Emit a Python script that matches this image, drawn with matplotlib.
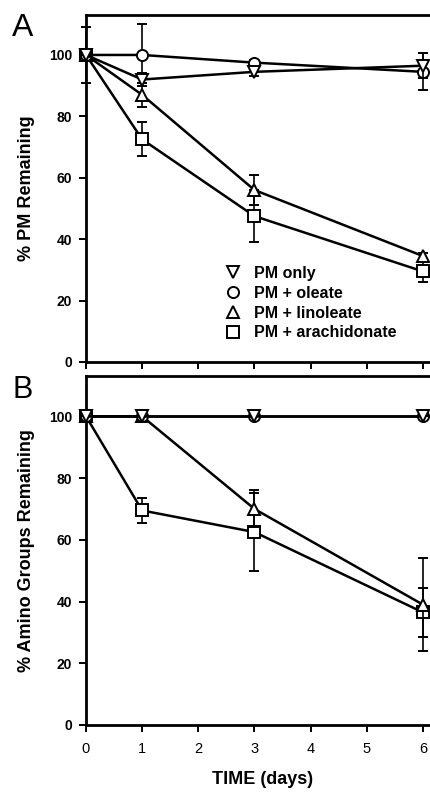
import matplotlib.pyplot as plt
from matplotlib.lines import Line2D

plt.rcParams['font.family'] = ['Liberation Sans', 'DejaVu Sans']

days = [0, 1, 3, 6]
labels = ["PM only", "PM + oleate", "PM + linoleate", "PM + arachidonate"]
markers = ["v", "o", "^", "s"]

# panel A : % PM remaining
pm_only_A = [100, 92, 94.5, 96.5]
pm_only_A_err = [0, 2, 1.5, 4]
oleate_A = [100, 100, 97.5, 94.5]
oleate_A_err = [9, 10, 1, 6]
linoleate_A = [100, 87, 56, 34.5]
linoleate_A_err = [0, 4, 5, 1]
arach_A = [100, 72.5, 47.5, 29.5]
arach_A_err = [0, 5.5, 8.5, 3.5]

# panel B : % amino groups remaining
pm_only_B = [100, 100, 100, 100]
pm_only_B_err = [0, 0, 0, 0]
oleate_B = [100, 100, 100, 100]
oleate_B_err = [0, 0, 0, 0]
linoleate_B = [100, 100, 70, 39]
linoleate_B_err = [0, 0, 6, 15]
arach_B = [100, 69.5, 62.5, 36.5]
arach_B_err = [0, 4.2, 12.5, 8]

fig = plt.figure(figsize=(4.3, 7.92), dpi=100)
axA = fig.add_axes([0.2, 0.543, 0.82, 0.438])
axB = fig.add_axes([0.2, 0.0846, 0.82, 0.4404])

def draw(ax, series):
    for i, ((y, e), m) in enumerate(zip(series, markers)):
        ax.errorbar(days, y, yerr=e, color="black", lw=1.8, marker=m,
                    markersize=8, markerfacecolor="white", markeredgecolor="black",
                    markeredgewidth=1.4, capsize=3.5, elinewidth=1.2, capthick=1.2,
                    clip_on=False, zorder=10 - i)
    ax.set_xlim(0, 6.28)
    ax.set_ylim(0, 113)
    ax.set_yticks([0, 20, 40, 60, 80, 100])
    ax.set_xticks(range(7))
    ax.spines["right"].set_visible(False)
    for s in ["left", "bottom", "top"]:
        ax.spines[s].set_linewidth(2)
    ax.tick_params(direction="out", length=5, width=1.4, labelsize=10)
    ax.tick_params(axis="y", pad=5)
    ax.tick_params(axis="x", pad=7, labelsize=10.5)
    for t in ax.get_yticklabels():
        t.set_fontweight("bold")

draw(axA, [(pm_only_A, pm_only_A_err), (oleate_A, oleate_A_err),
           (linoleate_A, linoleate_A_err), (arach_A, arach_A_err)])
draw(axB, [(pm_only_B, pm_only_B_err), (oleate_B, oleate_B_err),
           (linoleate_B, linoleate_B_err), (arach_B, arach_B_err)])

axA.set_xticklabels([])
axA.set_ylabel("% PM Remaining", fontsize=13, fontweight="bold", labelpad=10)
axB.set_ylabel("% Amino Groups Remaining", fontsize=13, fontweight="bold", labelpad=10)
axB.set_xlabel("TIME (days)", fontsize=13, fontweight="bold", labelpad=11)

handles = [Line2D([], [], linestyle="none", marker=m, markersize=8,
                  markerfacecolor="white", markeredgecolor="black", markeredgewidth=1.4)
           for m in markers]
leg = axA.legend(handles, labels, loc="upper left", bbox_to_anchor=(0.375, 0.295),
                 frameon=False, handlelength=1.0, handletextpad=0.85,
                 labelspacing=0.3, borderaxespad=0,
                 prop={"size": 11.5, "weight": "bold"})

fig.text(0.028, 0.9545, "A", fontsize=23, ha="left", va="baseline")
fig.text(0.028, 0.4975, "B", fontsize=22, ha="left", va="baseline")

fig.savefig("out.png", dpi=100)
